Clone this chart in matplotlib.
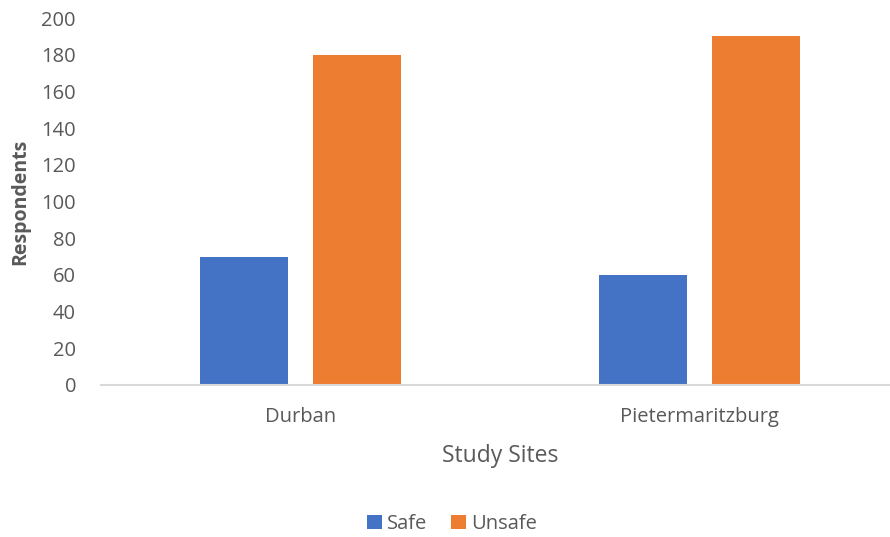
import numpy as np
import matplotlib
matplotlib.use('Agg')
import matplotlib.pyplot as plt

sites = ['Durban', 'Pietermaritzburg']
safe = [70, 60]
unsafe = [180, 190]
yticks = list(range(0, 201, 20))

plt.rcParams['font.family'] = ['Open Sans', 'DejaVu Sans']
text_grey = '#595959'

fig = plt.figure(figsize=(8.9, 5.37), dpi=100)
ax = fig.add_axes([101 / 890, (537 - 385) / 537, 798 / 890, 367 / 537])

x = np.arange(len(sites))
offset = 0.1416
width = 0.223
ax.bar(x - offset, safe, width, color='#4472C4', label='Safe')
ax.bar(x + offset, unsafe, width, color='#ED7D31', label='Unsafe')

ax.set_xlim(-0.5, 1.5)
ax.set_ylim(0, 200)
ax.set_yticks(yticks)
ax.set_xticks(x)
ax.set_xticklabels(sites)
ax.tick_params(axis='both', length=0, labelsize=14.5, colors=text_grey)
ax.tick_params(axis='x', pad=16)
ax.tick_params(axis='y', pad=18)

for side in ['top', 'right', 'left']:
    ax.spines[side].set_visible(False)
ax.spines['bottom'].set_color('#D9D9D9')
ax.spines['bottom'].set_linewidth(1.5)

ax.set_xlabel('Study Sites', fontsize=16.5, color=text_grey, labelpad=12)
ax.set_ylabel('Respondents', fontsize=14, color=text_grey, fontweight='bold', labelpad=8)

fig.legend(loc='center', bbox_to_anchor=(452 / 890, 1 - 524 / 537), ncol=2,
           frameon=False, fontsize=14.5, labelcolor=text_grey,
           handlelength=0.75, handleheight=0.75, handletextpad=0.25, columnspacing=1.2)

fig.savefig('out.png', dpi=100)
